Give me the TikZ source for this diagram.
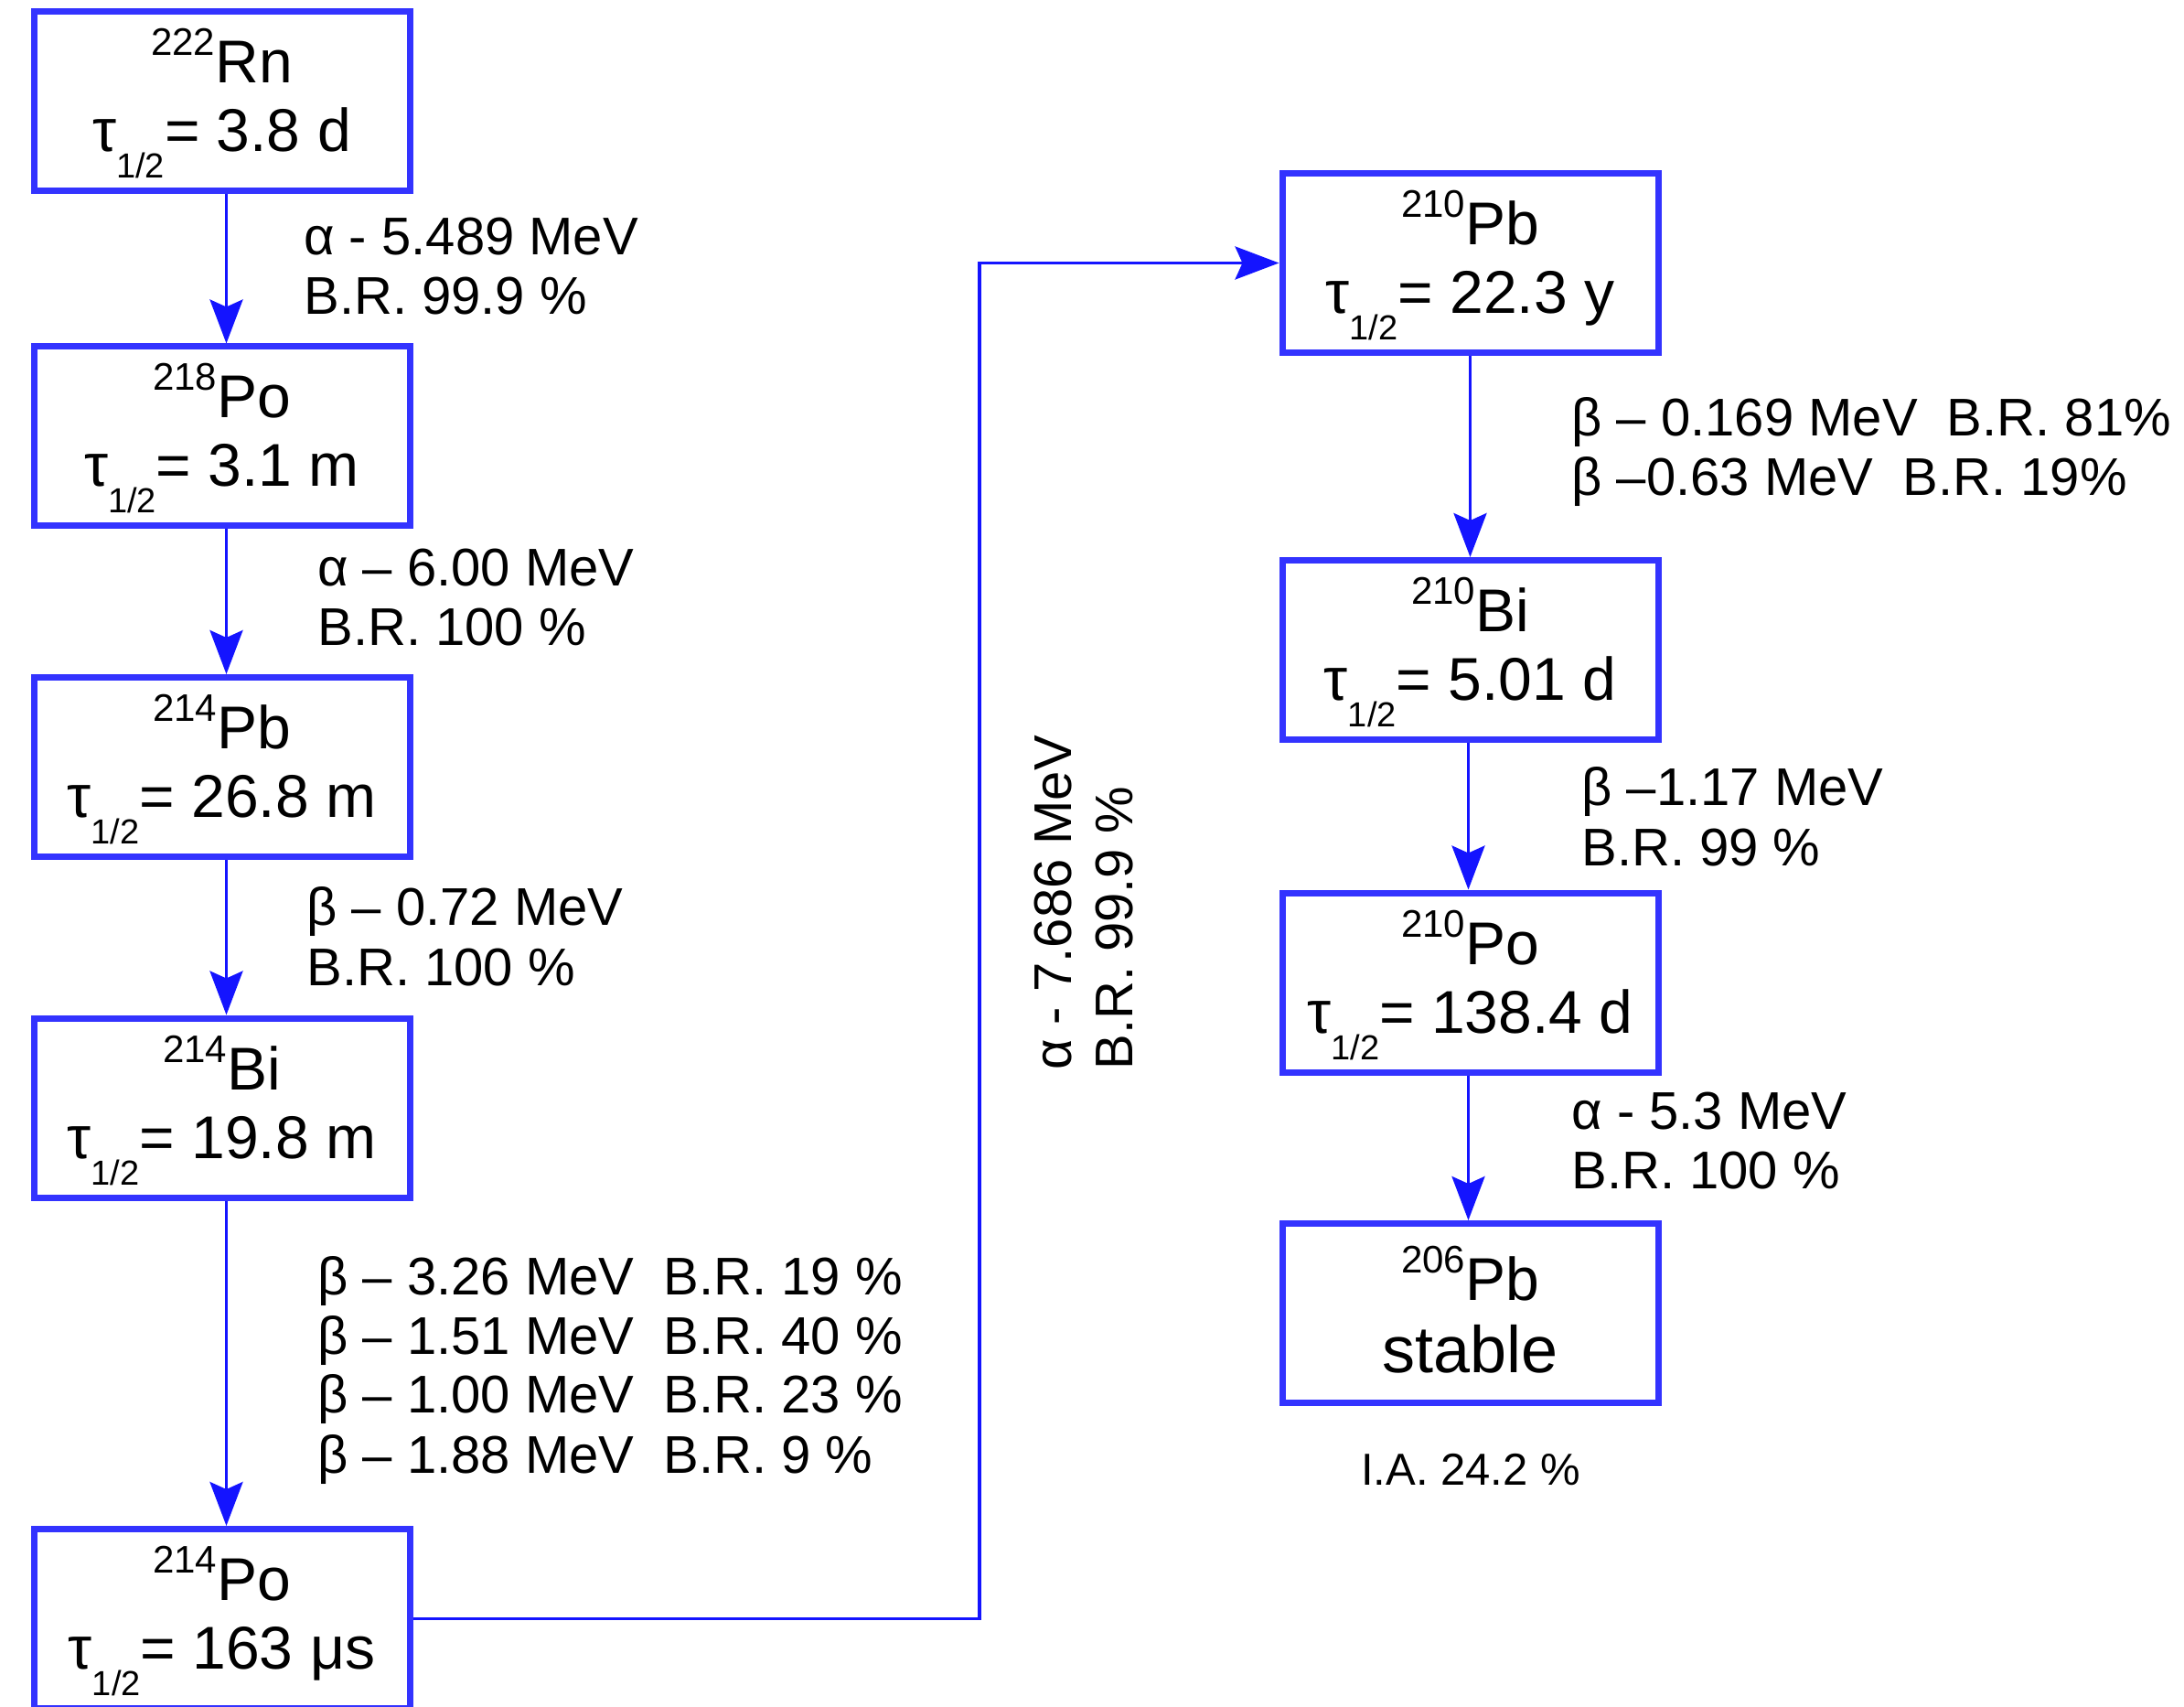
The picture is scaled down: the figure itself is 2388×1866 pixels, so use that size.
\documentclass[tikz,border=0pt]{standalone}
\usepackage{fontspec}
\setmainfont{Liberation Sans}
\usetikzlibrary{arrows.meta}
\definecolor{boxblue}{RGB}{51,51,255}
\definecolor{lineblue}{RGB}{20,20,255}
\newcommand{\nucl}[2]{{\fontsize{21}{21}\selectfont\raisebox{15pt}{#1}}#2}
\newcommand{\thalf}[1]{τ{\fontsize{19}{19}\selectfont\raisebox{-14.5pt}{1/2}}= #1}
\begin{document}
\begin{tikzpicture}[x=0.5pt,y=-0.5pt,
 iso/.style={draw=boxblue,line width=3.5pt,minimum width=205.5pt,minimum height=98pt,inner sep=0pt,fill=white},
 big/.style={anchor=base,font=\fontsize{33}{33}\selectfont,inner sep=0pt},
 lab/.style={anchor=base west,font=\fontsize{29}{29}\selectfont,inner sep=0pt},
 small/.style={anchor=base,font=\fontsize{24.5}{24.5}\selectfont,inner sep=0pt},
 decay/.style={draw=lineblue,line width=1.8pt,-{Stealth[length=24pt,width=18pt,inset=4pt]}},
]
\useasboundingbox (0,0) rectangle (2388,1866);
% left column
\node[iso] (rn222) at (242.5,111) {};
\node[iso] (po218) at (242.5,477) {};
\node[iso] (pb214) at (242.5,838.5) {};
\node[iso] (bi214) at (242.5,1211) {};
\node[iso] (po214) at (242.5,1769.5) {};
% right column
\node[iso] (pb210) at (1607.5,287.5) {};
\node[iso] (bi210) at (1607.5,710.5) {};
\node[iso] (po210) at (1607.5,1074) {};
\node[iso] (pb206) at (1607.5,1435.5) {};
% box texts
\node[big] (t1a) at ([yshift=10pt]rn222.center) {\nucl{222}{Rn}};
\node[big] (t1b) at ([yshift=-27.5pt]rn222.center) {\thalf{3.8 d}};
\node[big] (t2a) at ([yshift=10pt]po218.center) {\nucl{218}{Po}};
\node[big] (t2b) at ([yshift=-27.5pt]po218.center) {\thalf{3.1 m}};
\node[big] (t3a) at ([yshift=10pt]pb214.center) {\nucl{214}{Pb}};
\node[big] (t3b) at ([yshift=-27.5pt]pb214.center) {\thalf{26.8 m}};
\node[big] (t4a) at ([yshift=10pt]bi214.center) {\nucl{214}{Bi}};
\node[big] (t4b) at ([yshift=-27.5pt]bi214.center) {\thalf{19.8 m}};
\node[big] (t5a) at ([yshift=10pt]po214.center) {\nucl{214}{Po}};
\node[big] (t5b) at ([yshift=-27.5pt]po214.center) {\thalf{163 μs}};
\node[big] (t6a) at ([yshift=10pt]pb210.center) {\nucl{210}{Pb}};
\node[big] (t6b) at ([yshift=-27.5pt]pb210.center) {\thalf{22.3 y}};
\node[big] (t7a) at ([yshift=10pt]bi210.center) {\nucl{210}{Bi}};
\node[big] (t7b) at ([yshift=-27.5pt]bi210.center) {\thalf{5.01 d}};
\node[big] (t8a) at ([yshift=10pt]po210.center) {\nucl{210}{Po}};
\node[big] (t8b) at ([yshift=-27.5pt]po210.center) {\thalf{138.4 d}};
\node[big] (t9a) at ([yshift=7pt]pb206.center) {\nucl{206}{Pb}};
\node[big,font=\fontsize{36}{36}\selectfont] (t9b) at ([yshift=-32.5pt]pb206.center) {stable};
% arrows
\draw[decay] ([xshift=2.5pt]rn222.south) -- ([xshift=2.5pt]po218.north);
\draw[decay] ([xshift=2.5pt]po218.south) -- ([xshift=2.5pt]pb214.north);
\draw[decay] ([xshift=2.5pt]pb214.south) -- ([xshift=2.5pt]bi214.north);
\draw[decay] ([xshift=2.5pt]bi214.south) -- ([xshift=2.5pt]po214.north);
\draw[decay] (pb210) -- (bi210);
\draw[decay] ([xshift=-1pt]bi210.south) -- ([xshift=-1pt]po210.north);
\draw[decay] ([xshift=-1pt]po210.south) -- ([xshift=-1pt]pb206.north);
\coordinate (turn) at (1071,0);
\draw[decay] (po214.east) -- (po214.east -| turn) -- (turn |- pb210.west) -- (pb210.west);
% labels
\node[lab] (l1a) at (332,279) {α - 5.489 MeV};
\node[lab] (l1b) at (332,344) {B.R. 99.9 \%};
\node[lab] (l2a) at (347,640) {α – 6.00 MeV};
\node[lab] (l2b) at (347,705) {B.R. 100 \%};
\node[lab] (l3a) at (335,1011) {β – 0.72 MeV};
\node[lab] (l3b) at (335,1077) {B.R. 100 \%};
\node[lab] (l4a) at (347,1415) {β – 3.26 MeV\ \ B.R. 19 \%};
\node[lab] (l4b) at (347,1480) {β – 1.51 MeV\ \ B.R. 40 \%};
\node[lab] (l4c) at (347,1544) {β – 1.00 MeV\ \ B.R. 23 \%};
\node[lab] (l4d) at (347,1610) {β – 1.88 MeV\ \ B.R. 9 \%};
\node[lab] (l5a) at (1718,477) {β – 0.169 MeV\ \ B.R. 81\%};
\node[lab] (l5b) at (1718,542) {β –0.63 MeV\ \ B.R. 19\%};
\node[lab] (l6a) at (1729,880) {β –1.17 MeV};
\node[lab] (l6b) at (1729,946) {B.R. 99 \%};
\node[lab] (l7a) at (1718,1234) {α - 5.3 MeV};
\node[lab] (l7b) at (1718,1299) {B.R. 100 \%};
\node[small] (ia) at (1608,1623) {I.A. 24.2 \%};
\node[lab,rotate=90] (r1) at (1171,1170) {α - 7.686 MeV};
\node[lab,rotate=90] (r2) at (1238,1170) {B.R. 99.9 \%};
\end{tikzpicture}
\end{document}
